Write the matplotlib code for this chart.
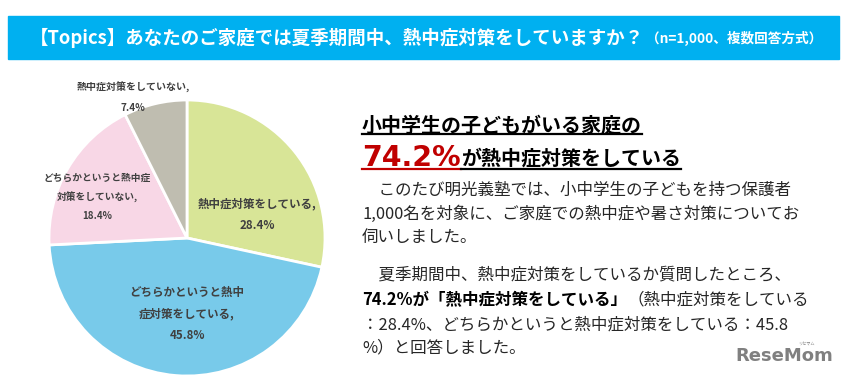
import matplotlib
matplotlib.use("Agg")
import matplotlib.pyplot as plt
from matplotlib.lines import Line2D
from matplotlib.patches import Rectangle

plt.rcParams['font.family'] = ['Noto Sans CJK JP', 'DejaVu Sans']

# ---- data ----
categories = ["熱中症対策をしている,", "どちらかというと熱中\n症対策をしている,",
              "どちらかというと熱中症\n対策をしていない,", "熱中症対策をしていない,"]
values = [28.4, 45.8, 18.4, 7.4]
colors = ["#D8E597", "#78CAEA", "#F8D7E6", "#BFBDB0"]

title_main = "【Topics】あなたのご家庭では夏季期間中、熱中症対策をしていますか？"
title_sub = "（n=1,000、複数回答方式）"
headline1 = "小中学生の子どもがいる家庭の"
headline_pct = "74.2%"
headline2 = "が熱中症対策をしている"
body1 = ["\u3000このたび明光義塾では、小中学生の子どもを持つ保護者",
         "1,000名を対象に、ご家庭での熱中症や暑さ対策についてお",
         "伺いしました。"]
body2_l1 = "\u3000夏季期間中、熱中症対策をしているか質問したところ、"
body2_bold = "74.2%が「熱中症対策をしている」"
body2_rest = "（熱中症対策をしている"
body2_l3 = "：28.4%、どちらかというと熱中症対策をしている：45.8"
body2_l4 = "%）と回答しました。"

W, H = 846, 380
fig = plt.figure(figsize=(W / 100, H / 100), dpi=100)
fig.patch.set_facecolor("white")


def fx(x):
    return x / W


def fy(y):
    return 1 - y / H


# ---- banner ----
fig.add_artist(Rectangle((fx(8), fy(59)), fx(831), (59 - 16) / H,
                         transform=fig.transFigure, color="#00B0F0", zorder=0))
renderer = fig.canvas.get_renderer()
t = fig.text(fx(30), fy(37.5), title_main, color="white", fontsize=13.3,
             fontweight="bold", va="center", ha="left")
bb = t.get_window_extent(renderer)
fig.text(bb.x1 / W + fx(2), fy(38.5), title_sub, color="white",
         fontsize=9.8, fontweight="bold", va="center", ha="left")

# ---- pie ----
cx, cy, r = 187, 238, 138
ax = fig.add_axes([fx(cx - r), (H - cy - r) / H, 2 * r / W, 2 * r / H])
wedges, _ = ax.pie(values, colors=colors, startangle=90, counterclock=False,
                   wedgeprops=dict(edgecolor="white", linewidth=2))
ax.set_xlim(-1, 1)
ax.set_ylim(-1, 1)
ax.set_aspect("equal")
ax.axis("off")

label_pos = [(0.507, 0.17), (0.0, -0.55), (-0.652, 0.297), (-0.391, 1.02)]
label_size = [8.3, 8.3, 7.0, 7.2]
label_ls = [1.85, 1.85, 2.0, 2.2]
for cat, v, (lx, ly), fs, ls in zip(categories, values, label_pos, label_size, label_ls):
    ax.text(lx, ly, f"{cat}\n{v}%", ha="center", va="center", fontsize=fs,
            fontweight="bold", color="#404040", linespacing=ls, clip_on=False)

# ---- right-side text ----
x0 = 362


def underline(x_a, x_b, y, color):
    fig.add_artist(Line2D([fx(x_a), fx(x_b)], [fy(y), fy(y)], color=color,
                          linewidth=1.6, transform=fig.transFigure))


t = fig.text(fx(x0), fy(125), headline1, fontsize=14.4, fontweight="bold",
             color="black", va="center", ha="left")
bb = t.get_window_extent(renderer)
underline(x0, bb.x1, 133.5, "black")

tp = fig.text(fx(x0), fy(166.5), headline_pct, fontsize=20.5, fontweight="bold",
              color="#C00000", va="baseline", ha="left", family="DejaVu Sans")
bbp = tp.get_window_extent(renderer)
t2 = fig.text(bbp.x1 / W, fy(165), headline2, fontsize=14.4, fontweight="bold",
              color="black", va="baseline", ha="left")
bb2 = t2.get_window_extent(renderer)
underline(x0, bbp.x1, 168.5, "#C00000")
underline(bbp.x1, bb2.x1, 168.5, "black")

body_color = "#262626"
body_fs = 11.9
for txt, y in zip(body1, [190, 214, 237]):
    fig.text(fx(x0), fy(y), txt, fontsize=body_fs, color=body_color,
             va="center", ha="left")

fig.text(fx(x0), fy(275), body2_l1, fontsize=body_fs, color=body_color,
         va="center", ha="left")
tb = fig.text(fx(x0), fy(300), body2_bold, fontsize=body_fs, color="black",
              fontweight="bold", va="center", ha="left")
bbb = tb.get_window_extent(renderer)
fig.text(bbb.x1 / W, fy(300), body2_rest, fontsize=body_fs, color=body_color,
         va="center", ha="left")
fig.text(fx(x0), fy(325), body2_l3, fontsize=body_fs, color=body_color,
         va="center", ha="left")
fig.text(fx(x0), fy(348), body2_l4, fontsize=body_fs, color=body_color,
         va="center", ha="left")

# ---- logo ----
fig.text(fx(735), fy(356), "ReseMom", fontsize=13, fontweight="bold",
         color="#808080", va="center", ha="left", family="DejaVu Sans")
fig.text(fx(806), fy(344), "リセマム", fontsize=3, color="#808080",
         va="center", ha="center")

fig.savefig("out.png", dpi=100)
